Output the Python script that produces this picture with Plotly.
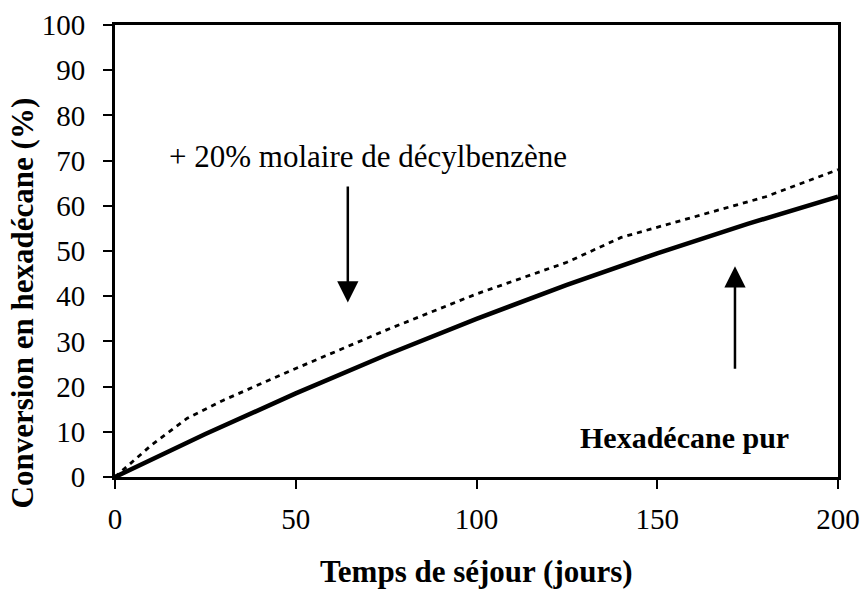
import plotly.graph_objects as go

# Conversion of hexadecane vs residence time
days_pure = [0, 25, 50, 75, 100, 125, 150, 175, 200]
conv_pure = [0, 9.5, 18.5, 27, 35, 42.5, 49.5, 56, 62]

days_mix = [0, 10, 20, 30, 50, 75, 100, 125, 140, 160, 180, 200]
conv_mix = [0, 7, 13, 17, 24, 32.5, 40.5, 47.5, 53, 57.5, 62, 68]

x_ticks = [0, 50, 100, 150, 200]
y_ticks = list(range(0, 101, 10))

FONT = "Liberation Serif, Times New Roman, serif"

fig = go.Figure()
fig.add_trace(go.Scatter(x=days_mix, y=conv_mix, mode="lines",
                         line=dict(color="black", width=2.8, dash="5px,5px"),
                         showlegend=False))
fig.add_trace(go.Scatter(x=days_pure, y=conv_pure, mode="lines",
                         line=dict(color="black", width=4.5),
                         showlegend=False))

fig.add_annotation(x=70, y=70.8, text="+ 20% molaire de décylbenzène",
                   showarrow=False, font=dict(family=FONT, size=31, color="black"))
fig.add_annotation(x=157.5, y=8.7, text="<b>Hexadécane pur</b>",
                   showarrow=False, font=dict(family=FONT, size=30, color="black"))

# arrows pointing to each curve
fig.add_annotation(x=64.4, y=38.6, ax=64.4, ay=64.6, xref="x", yref="y",
                   axref="x", ayref="y", text="", showarrow=True,
                   arrowhead=2, arrowsize=1.7, arrowwidth=2.5, arrowcolor="black")
fig.add_annotation(x=171.5, y=46.6, ax=171.5, ay=23.6, xref="x", yref="y",
                   axref="x", ayref="y", text="", showarrow=True,
                   arrowhead=2, arrowsize=1.7, arrowwidth=2.5, arrowcolor="black")

# axis titles
fig.add_annotation(xref="paper", yref="paper", x=0.5, y=-0.208,
                   xanchor="center", yanchor="middle", showarrow=False,
                   text="<b>Temps de séjour (jours)</b>",
                   font=dict(family=FONT, size=31, color="black"))
fig.add_annotation(xref="paper", yref="paper", x=-0.1286, y=0.384,
                   xanchor="center", yanchor="middle", showarrow=False,
                   textangle=-90, text="<b>Conversion en hexadécane (%)</b>",
                   font=dict(family=FONT, size=31, color="black"))

axis_common = dict(showgrid=False, zeroline=False, showline=True, linecolor="black",
                   linewidth=3, mirror=True, ticks="outside", tickcolor="black",
                   ticklen=9, tickwidth=1.5,
                   tickfont=dict(family=FONT, size=29, color="black"))

fig.update_xaxes(range=[0, 200], tickvals=x_ticks, ticklabelstandoff=5,
                 **axis_common)
fig.update_yaxes(range=[0, 100], tickvals=y_ticks, ticklabelstandoff=12,
                 **axis_common)

fig.update_layout(width=867, height=595, paper_bgcolor="white", plot_bgcolor="white",
                  margin=dict(l=115, r=29, t=25, b=118, autoexpand=False))

fig.write_html("out.html")
